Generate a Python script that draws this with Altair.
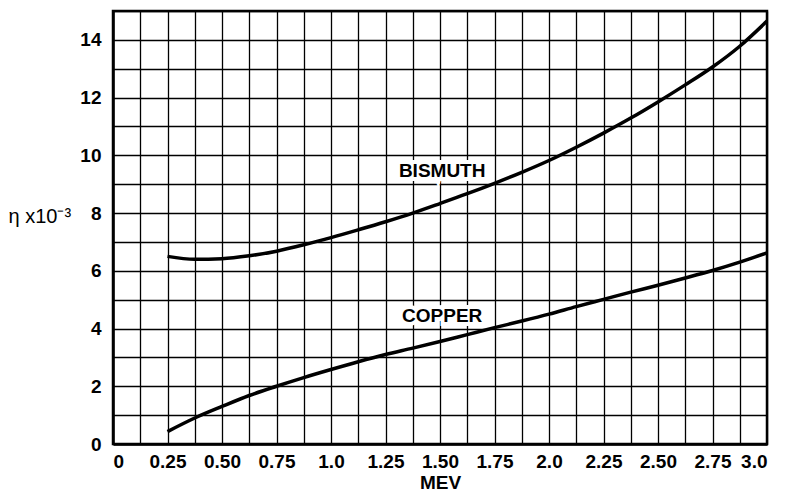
import altair as alt
import pandas as pd

# ---- data ----
mev = [0.25, 0.375, 0.5, 0.625, 0.75, 0.875, 1.0, 1.125, 1.25, 1.375, 1.5, 1.625,
       1.75, 1.875, 2.0, 2.125, 2.25, 2.375, 2.5, 2.625, 2.75, 2.875, 3.0]
bismuth = [6.5, 6.4, 6.42, 6.52, 6.68, 6.9, 7.15, 7.42, 7.7, 8.0, 8.33, 8.67,
           9.03, 9.41, 9.82, 10.28, 10.77, 11.29, 11.85, 12.44, 13.06, 13.78, 14.65]
copper = [0.43, 0.9, 1.3, 1.68, 2.0, 2.3, 2.58, 2.85, 3.1, 3.32, 3.55, 3.79,
          4.03, 4.26, 4.5, 4.76, 5.01, 5.26, 5.5, 5.75, 6.01, 6.3, 6.62]

x_ticks = [0, 0.125, 0.25, 0.375, 0.5, 0.625, 0.75, 0.875, 1.0, 1.125, 1.25, 1.375,
           1.5, 1.625, 1.75, 1.875, 2.0, 2.125, 2.25, 2.375, 2.5, 2.625, 2.75, 2.875, 3.0]
x_tick_labels = ["0", "", "0.25", "", "0.50", "", "0.75", "", "1.0", "", "1.25", "",
                 "1.50", "", "1.75", "", "2.0", "", "2.25", "", "2.50", "", "2.75", "", "3.0"]
y_ticks = list(range(0, 16))
y_tick_labels = ["0", "", "2", "", "4", "", "6", "", "8", "", "10", "", "12", "", "14", ""]

label_names = ["BISMUTH", "COPPER"]
label_x = [1.51, 1.51]
label_y = [9.44, 4.44]

# ---- tables ----
df = pd.DataFrame({
    "mev": mev * 2,
    "eta": bismuth + copper,
    "metal": ["Bismuth"] * len(mev) + ["Copper"] * len(mev),
})
labels = pd.DataFrame({"name": label_names, "mev": label_x, "eta": label_y})

FONT = "Liberation Sans"

xlab_arr = "[" + ",".join("'%s'" % s for s in x_tick_labels) + "]"
ylab_arr = "[" + ",".join("'%s'" % s for s in y_tick_labels) + "]"

x_enc = alt.X(
    "mev:Q",
    scale=alt.Scale(domain=[0, 3], nice=False, zero=False),
    axis=alt.Axis(
        values=x_ticks, labelExpr=xlab_arr + "[round(datum.value*8)]",
        title="MEV", titleY=44, titleBaseline="alphabetic",
        ticks=False, labelPadding=8, labelAngle=0, labelOverlap=False,
    ),
)
y_enc = alt.Y(
    "eta:Q",
    scale=alt.Scale(domain=[0, 15], nice=False),
    axis=alt.Axis(
        values=y_ticks, labelExpr=ylab_arr + "[round(datum.value)]",
        title="η x10⁻³", titleAngle=0, titleX=-105, titleY=205,
        titleAlign="left", titleBaseline="middle", titleFontWeight="normal",
        titleFontSize=20,
        ticks=False, labelPadding=12, labelOverlap=False,
    ),
)

lines = alt.Chart(df).mark_line(color="black", strokeWidth=3.5, interpolate="monotone").encode(
    x=x_enc, y=y_enc, detail="metal:N"
)

halo = alt.Chart(labels).mark_text(
    font=FONT, fontSize=19, fontWeight="bold", color="white",
    stroke="white", strokeWidth=8, align="center", baseline="middle",
).encode(x=x_enc, y=y_enc, text="name:N")

text = alt.Chart(labels).mark_text(
    font=FONT, fontSize=19, fontWeight="bold", color="black",
    align="center", baseline="middle",
).encode(x=x_enc, y=y_enc, text="name:N")

chart = alt.layer(lines, halo, text).properties(
    width=654, height=433,
    padding={"left": 105, "top": 3, "right": 11, "bottom": 47},
    autosize=alt.AutoSizeParams(type="none"),
    background="white",
).configure_view(
    stroke="black", strokeWidth=2.5,
).configure_axis(
    grid=True, gridColor="black", gridOpacity=1, gridWidth=1.3,
    domainColor="black", domainWidth=2.5,
    labelFont=FONT, labelFontSize=19, labelFontWeight="bold", labelColor="black",
    titleFont=FONT, titleFontSize=19, titleFontWeight="bold", titleColor="black",
)

chart.save("out.html", embed_options={"renderer": "svg", "actions": False})
